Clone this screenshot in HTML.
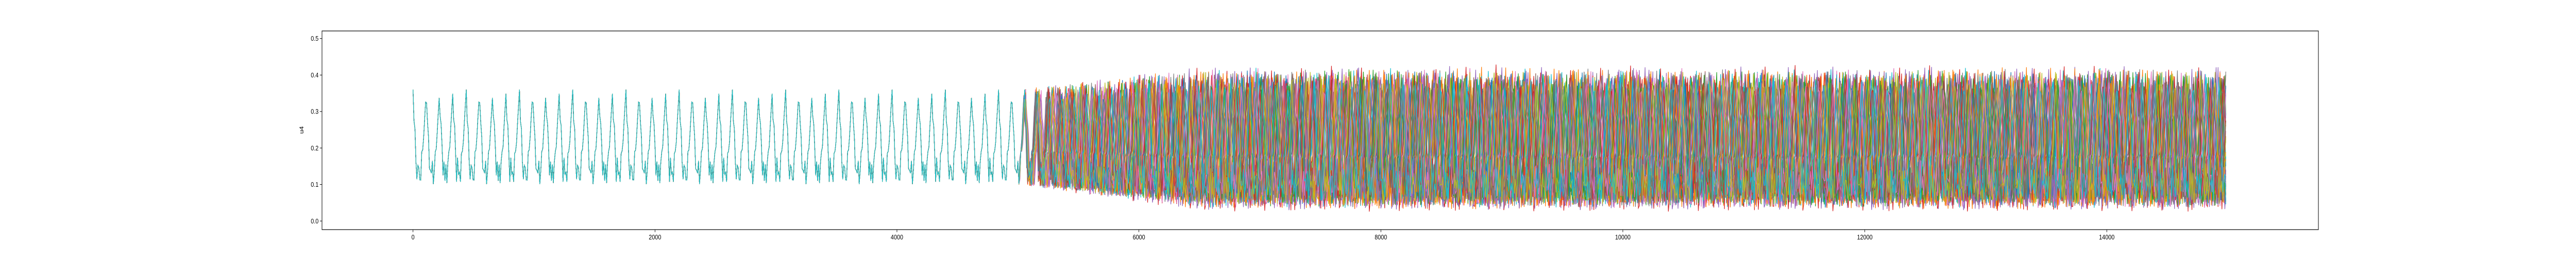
<!DOCTYPE html>
<html><head><meta charset="utf-8"><style>
html,body{margin:0;padding:0;background:#fff;width:100%;height:100%;overflow:hidden}
svg{display:block;position:absolute;left:0;top:0;width:100vw;height:100vh;font-family:"Liberation Sans",sans-serif}
</style></head><body>
<svg id="chart" viewBox="0 0 6000 500" preserveAspectRatio="none" xmlns="http://www.w3.org/2000/svg">
<rect x="0" y="0" width="6000" height="500" fill="#fff"/>
<g id="plot"></g>
<g id="axes"></g>
</svg>
<script>
// ---- data ----
const xTicks = [0,2000,4000,6000,8000,10000,12000,14000];
const yTicks = [0.0,0.1,0.2,0.3,0.4,0.5];
const xTickLabels = ["0","2000","4000","6000","8000","10000","12000","14000"];
const yTickLabels = ["0.0","0.1","0.2","0.3","0.4","0.5"];
// one oscillation cycle (phase 0..1) read from the synchronized part
const cyclePhase = [0,0.04,0.09,0.14,0.22,0.28,0.34,0.40,0.46,0.52,0.58,0.64,0.70,0.76,0.84,0.92,1.0];
const cycleValue = [0.36,0.28,0.27,0.26,0.16,0.10,0.18,0.11,0.17,0.10,0.11,0.19,0.19,0.20,0.26,0.31,0.36];
const syncPeriod = 110;
const divergeStart = 5000;
const divergeEnd = 6500;
const tEnd = 14990;
// per-series phase offsets (cycles), frequency drift (cycles/unit) and amplitude scale
const seriesPhase = [0.00,0.53,0.21,0.77,0.38,0.92,0.14,0.66,0.45,0.08,0.71,0.29,0.85,0.57,0.33,0.02,0.62,0.18,0.96,0.41,0.74,0.26,0.49,0.11,0.88,0.35,0.69,0.05,0.58,0.23,0.81,0.47,0.15,0.93,0.39,0.64,0.27,0.79,0.52,0.31];
const seriesDrift = [0.0006,-0.0004,0.0009,-0.0008,0.0002,0.0011,-0.0012,0.0005,-0.0003,0.0008,-0.0007,0.0010,0.0001,-0.0010,0.0007,-0.0005,0.0012,-0.0001,0.0004,-0.0009,0.0003,0.0009,-0.0006,0.0011,-0.0002,0.0006,-0.0011,0.0008,0.0000,-0.0004,0.0010,-0.0008,0.0005,0.0002,-0.0012,0.0007,-0.0003,0.0009,-0.0007,0.0004];
const seriesAmp = [1.40,1.30,1.45,1.35,1.50,1.25,1.42,1.38,1.32,1.48,1.28,1.44,1.36,1.55,1.34,1.40,1.26,1.46,1.38,1.30,1.42,1.50,1.32,1.36,1.44,1.28,1.48,1.34,1.40,1.38,1.30,1.46,1.42,1.32,1.52,1.36,1.26,1.44,1.40,1.34];
const seriesColors = ["#1f77b4","#ff7f0e","#2ca02c","#d62728","#9467bd","#8c564b","#e377c2","#7f7f7f","#bcbd22","#17becf"];

// ---- axes functions ----
const X0 = 750, X1 = 5400, Y0 = 60, Y1 = 445;
function xs(v){ return 962 + v*0.28179; }
function ys(v){ return 428.3 - v*707.2; }

function shape(p){
  p = p - Math.floor(p);
  for (let i=1;i<cyclePhase.length;i++){
    if (p <= cyclePhase[i]){
      const f = (p-cyclePhase[i-1])/(cyclePhase[i]-cyclePhase[i-1]);
      return cycleValue[i-1] + f*(cycleValue[i]-cycleValue[i-1]);
    }
  }
  return cycleValue[cycleValue.length-1];
}

const NS = "http://www.w3.org/2000/svg";
const plot = document.getElementById('plot');
const axes = document.getElementById('axes');
const center = 0.235;
for (let s=0;s<seriesPhase.length;s++){
  let pts = [];
  for (let t=0;t<=tEnd;t+=8){
    let r = t<=divergeStart?0:(t>=divergeEnd?1:(t-divergeStart)/(divergeEnd-divergeStart));
    const ph = t/syncPeriod + r*seriesPhase[s] + Math.max(0,t-divergeStart)*seriesDrift[s];
    const amp = 1 + r*(seriesAmp[s]-1);
    const v = center + (shape(ph)-center)*amp;
    pts.push(xs(t).toFixed(1)+','+ys(v).toFixed(1));
  }
  const pl = document.createElementNS(NS,'polyline');
  
  
  pl.setAttribute('points', pts.join(' '));
  pl.setAttribute('fill','none');
  pl.setAttribute('stroke', seriesColors[s%10]);
  pl.setAttribute('stroke-width','1.4');
  plot.appendChild(pl);
}

function el(tag, attrs, text){
  const e = document.createElementNS(NS, tag);
  for (const k in attrs) e.setAttribute(k, attrs[k]);
  if (text!==undefined) e.textContent = text;
  axes.appendChild(e);
  return e;
}
const frame = el('rect',{x:X0,y:Y0,width:X1-X0,height:Y1-Y0,fill:'none',stroke:'#000','stroke-width':1.2});


xTicks.forEach((v,i)=>{
  const tk = el('line',{x1:xs(v),x2:xs(v),y1:Y1,y2:Y1+5,stroke:'#000','stroke-width':1});
  
  
  const tl = el('text',{x:xs(v),y:Y1+19,'font-size':13,'text-anchor':'middle',fill:'#000'}, xTickLabels[i]);
  
  
});
yTicks.forEach((v,i)=>{
  const tk = el('line',{x1:X0-5,x2:X0,y1:ys(v),y2:ys(v),stroke:'#000','stroke-width':1});
  
  
  const tl = el('text',{x:X0-8,y:ys(v)+4.5,'font-size':13,'text-anchor':'end',fill:'#000'}, yTickLabels[i]);
  
  
});
const yl = el('text',{x:707,y:252,'font-size':13,'text-anchor':'middle',fill:'#000',transform:'rotate(-90 707 252)'}, 'u4');


</script>
</body></html>
